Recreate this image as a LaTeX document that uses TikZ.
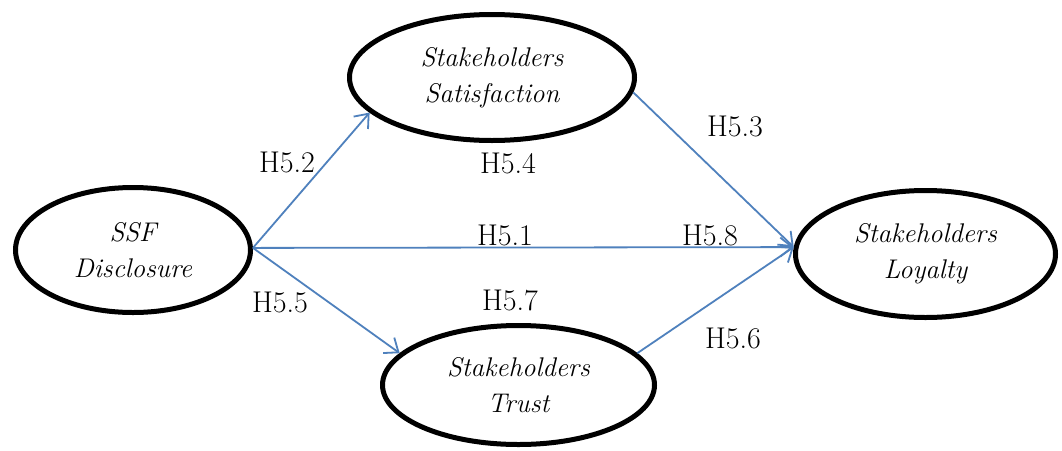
\documentclass[tikz,border=0pt]{standalone}
\usetikzlibrary{arrows.meta,shapes.geometric}
\definecolor{arrowblue}{RGB}{79,129,189}
\begin{document}
\begin{tikzpicture}[x=1pt,y=-1pt,
  construct/.style={ellipse,draw=black,line width=5pt,inner sep=0pt,align=center,
    font=\fontsize{27}{36}\selectfont\itshape},
  hyp/.style={inner sep=0pt,font=\fontsize{30}{32}\selectfont},
  path/.style={draw=arrowblue,line width=1.8pt,-{Straight Barb[length=12pt,width=19pt,line width=1.8pt]}}]
\fill[white] (0,0) rectangle (1062,450);
\useasboundingbox (0,0) rectangle (1062,450);
% constructs
\node[construct,minimum width=235pt,minimum height=125pt] (ssf) at (133,250) {SSF\\Disclosure};
\node[construct,minimum width=285pt,minimum height=126pt] (sat) at (492,77.5) {Stakeholders\\Satisfaction};
\node[construct,minimum width=272pt,minimum height=119pt] (tru) at (518.5,385) {Stakeholders\\Trust};
\node[construct,minimum width=260pt,minimum height=127pt] (loy) at (925.5,254) {Stakeholders\\Loyalty};
% paths
\draw[path] (ssf.1) -- (sat.196);
\draw[path] (ssf.1) -- (tru.165);
\draw[path] (ssf.1) -- (loy.177);
\draw[path] (sat.354) -- (loy.177);
\draw[path] (tru.15.5) -- (loy.177);
% labels
\node[hyp] (h52) at (287,162) {H5.2};
\node[hyp] (h54) at (508,163) {H5.4};
\node[hyp] (h53) at (735,126) {H5.3};
\node[hyp] (h51) at (505,235) {H5.1};
\node[hyp] (h58) at (710,235) {H5.8};
\node[hyp] (h55) at (280,302) {H5.5};
\node[hyp] (h57) at (510,300) {H5.7};
\node[hyp] (h56) at (733,338) {H5.6};
\end{tikzpicture}
\end{document}
